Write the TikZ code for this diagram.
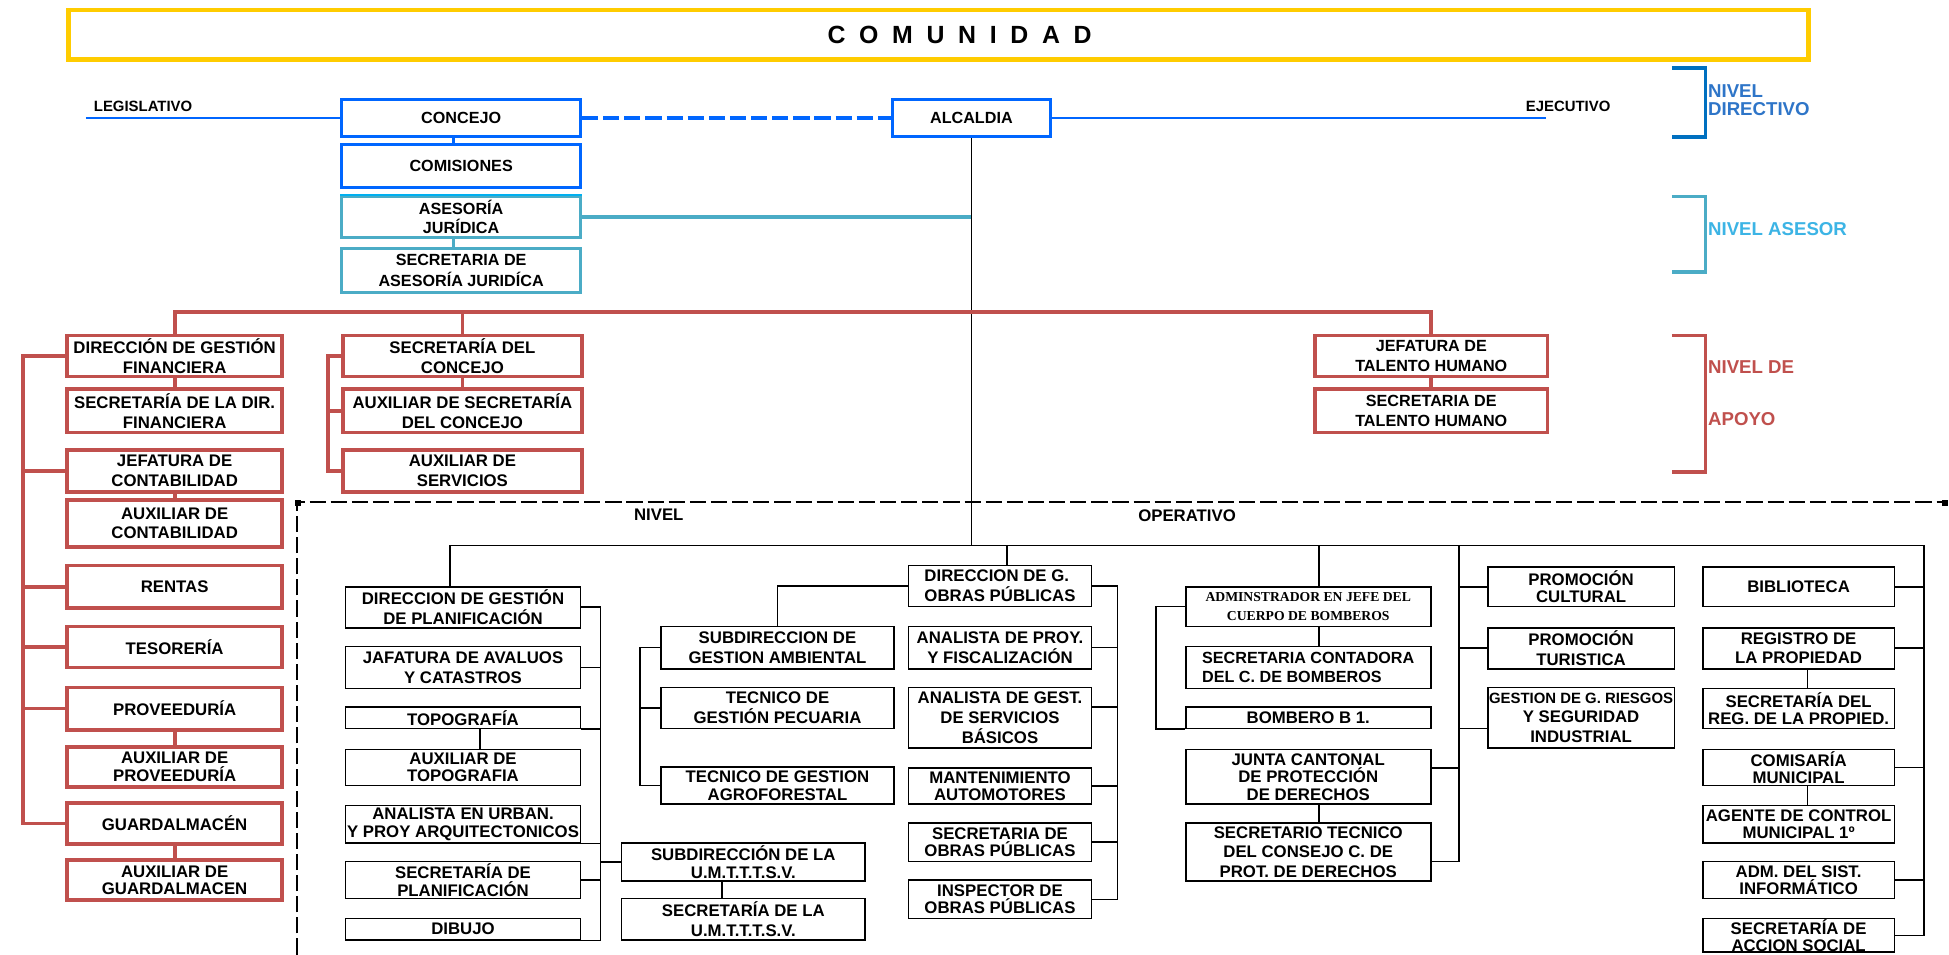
\documentclass[tikz,border=0pt]{standalone}
\usepackage{fontspec}
\setmainfont{Liberation Sans}
\newfontfamily\serifb{Liberation Serif}
\definecolor{yel}{RGB}{255,204,0}
\definecolor{dblue}{RGB}{0,102,255}
\definecolor{nblue}{RGB}{0,112,192}
\definecolor{nbluet}{RGB}{46,117,200}
\definecolor{teal1}{RGB}{75,172,198}
\definecolor{cyan1}{RGB}{0,176,240}
\definecolor{ntealt}{RGB}{60,180,229}
\definecolor{red1}{RGB}{192,80,77}
\newcommand\boxf{\bfseries\fontsize{13.5}{16}\selectfont}
\newcommand\boxft{\bfseries\fontsize{13.5}{14}\selectfont}
\newcommand\topf{\bfseries\fontsize{13}{16}\selectfont}
\newcommand\levf{\bfseries\fontsize{15}{15}\selectfont}
\newcommand\spc{\hspace{11pt}}
\newcommand\Bx[7]{\node[#6, minimum width={#4-#2}, minimum height={#5-#3}] (#1) at ({(#2+#4)/2},{(#3+#5)/2}) {#7};}
\tikzset{
  bluebox/.style={draw=dblue, line width=2.5pt, fill=white, inner sep=0pt, align=center, font=\topf},
  tealbox/.style={draw=teal1, line width=2.5pt, fill=white, inner sep=0pt, align=center, font=\topf},
  redbox/.style={draw=red1, line width=3pt, fill=white, inner sep=0pt, align=center, font=\boxf},
  opbox/.style={draw=black, line width=1.3pt, fill=white, inner sep=0pt, align=center, font=\boxf},
  redline/.style={draw=red1, line width=3pt},
  opline/.style={draw=black, line width=1.3pt},
  bracketline/.style={line width=3pt}
}
\begin{document}
\begin{tikzpicture}[x=1pt,y=-1pt]
\fill[white] (0,0) rectangle (1568,768);
\useasboundingbox (0,0) rectangle (1568,768);

% ---------- COMUNIDAD ----------
\Bx{comunidad}{55}{8}{1455}{48}{draw=yel, line width=3.5pt}{}
\node[font=\bfseries\fontsize{20}{24}\selectfont] (comtxt) at (772,28) {C\spc O\spc M\spc U\spc N\spc I\spc D\spc A\spc D};

% ---------- NIVEL DIRECTIVO ----------
\node[anchor=base west, font=\bfseries\fontsize{12}{14}\selectfont] (legis) at (72,90) {LEGISLATIVO};
\node[anchor=base west, font=\bfseries\fontsize{12}{14}\selectfont] (ejec) at (1224,90) {EJECUTIVO};
\Bx{concejo}{275}{80}{467}{110}{bluebox}{CONCEJO}
\Bx{comis}{275}{116}{467}{151}{bluebox}{COMISIONES}
\Bx{alcaldia}{718}{80}{845}{110}{bluebox}{ALCALDIA}
\coordinate (legend) at (69,95);
\coordinate (ejend) at (1244,95);
\draw[dblue, line width=1.3pt] (legend) -- (concejo.west);
\draw[dblue, line width=1.3pt] (alcaldia.east) -- (ejend);
\draw[dblue, line width=3pt, dash pattern=on 13pt off 4pt] (concejo.east) -- (alcaldia.west);
\draw[dblue, line width=2.5pt] ([xshift=-6pt]concejo.south) -- ([xshift=-6pt]comis.north);

% ---------- NIVEL ASESOR ----------
\Bx{ases}{275}{158}{467}{191}{tealbox, font=\bfseries\fontsize{13}{15}\selectfont}{ASESORÍA\\JURÍDICA}
\Bx{secases}{275}{200}{467}{235}{tealbox, font=\bfseries\fontsize{13}{17.5}\selectfont}{SECRETARIA DE\\ASESORÍA JURIDÍCA}
\draw[cyan1, line width=2pt] (ases.north west) -- (ases.north east);
\draw[teal1, line width=2.5pt] ([xshift=-6pt]ases.south) -- ([xshift=-6pt]secases.north);
\coordinate (otop) at (783,439);
\draw[opline] (alcaldia.south) -- (alcaldia.south |- otop);
\draw[teal1, line width=3pt] (ases.east) -- (ases.east -| alcaldia.south);

% ---------- NIVEL DE APOYO ----------
\Bx{dirf}{54}{270}{227}{303}{redbox}{DIRECCIÓN DE GESTIÓN\\FINANCIERA}
\Bx{secdf}{54}{313}{227}{348}{redbox}{SECRETARÍA DE LA DIR.\\FINANCIERA}
\Bx{jefc}{54}{362}{227}{396}{redbox}{JEFATURA DE\\CONTABILIDAD}
\Bx{auxc}{54}{402}{227}{440}{redbox}{AUXILIAR DE\\CONTABILIDAD}
\Bx{rentas}{54}{455}{227}{489}{redbox}{RENTAS}
\Bx{teso}{54}{504}{227}{537}{redbox}{TESORERÍA}
\Bx{prov}{54}{553}{227}{587}{redbox}{PROVEEDURÍA}
\Bx{auxp}{54}{601}{227}{633}{redbox, font=\boxft}{AUXILIAR DE\\PROVEEDURÍA}
\Bx{guard}{54}{646}{227}{679}{redbox}{GUARDALMACÉN}
\Bx{auxg}{54}{692}{227}{724}{redbox, font=\boxft}{AUXILIAR DE\\GUARDALMACEN}
\Bx{secc}{276}{270}{468}{303}{redbox}{SECRETARÍA DEL\\CONCEJO}
\Bx{auxsc}{276}{313}{468}{348}{redbox}{AUXILIAR DE SECRETARÍA\\DEL CONCEJO}
\Bx{auxs}{276}{362}{468}{396}{redbox}{AUXILIAR DE\\SERVICIOS}
\Bx{jth}{1058}{270}{1245}{303}{redbox, font=\topf}{JEFATURA DE\\TALENTO HUMANO}
\Bx{sth}{1058}{313}{1245}{348}{redbox, font=\topf}{SECRETARIA DE\\TALENTO HUMANO}

\coordinate (apoyo) at (783,251);
\draw[redline] (dirf.north) |- (apoyo) -| (jth.north);
\draw[redline] (secc.north) -- (secc.north |- apoyo);
\coordinate (lsp) at (18.5,0);
\draw[redline] (dirf.west) -| (lsp |- guard.west) -- (guard.west);
\foreach \n in {jefc,rentas,teso,prov} {\draw[redline] (\n.west) -- (lsp |- \n.west);}
\draw[redline] (dirf.south) -- (secdf.north);
\draw[redline] (jefc.south) -- (auxc.north);
\draw[redline] (prov.south) -- (auxp.north);
\draw[redline] (guard.south) -- (auxg.north);
\coordinate (msp) at (264,0);
\draw[redline] (secc.west) -| (msp |- auxs.west) -- (auxs.west);
\draw[redline] (auxsc.west) -- (msp |- auxsc.west);
\draw[redline] (secc.south) -- (auxsc.north);
\draw[redline] (jth.south) -- (sth.north);

% ---------- brackets ----------
\draw[nblue, bracketline] (1345,55) -- (1372,55) -- (1372,110) -- (1345,110);
\node[anchor=west, text=nbluet, font=\levf, align=left, inner sep=0pt] (nivdir) at (1374,80.5) {NIVEL\\DIRECTIVO};
\draw[teal1, bracketline] (1345,158) -- (1372,158) -- (1372,219) -- (1345,219);
\node[anchor=west, text=ntealt, font=\levf, inner sep=0pt] (nivas) at (1374,184) {NIVEL ASESOR};
\draw[red1, bracketline] (1345,270) -- (1372,270) -- (1372,380) -- (1345,380);
\node[anchor=west, text=red1, font=\levf, inner sep=0pt] (nivap1) at (1374,295) {NIVEL DE};
\node[anchor=west, text=red1, font=\levf, inner sep=0pt] (nivap2) at (1374,337) {APOYO};

% ---------- NIVEL OPERATIVO ----------
\draw[black, line width=1.5pt, dash pattern=on 13pt off 4pt] (239,768) -- (239,404) -- (1566,404);
\fill (237,402) rectangle (242,407);
\fill (1562,402) rectangle (1567,407);
\node[font=\boxf] (opn) at (530,414.5) {NIVEL};
\node[font=\boxf] (opo) at (955,414.5) {OPERATIVO};

\Bx{plan}{278}{472}{467}{505}{opbox}{DIRECCION DE GESTIÓN\\DE PLANIFICACIÓN}
\Bx{jaf}{278}{520}{467}{554}{opbox}{JAFATURA DE AVALUOS\\Y CATASTROS}
\Bx{topo}{278}{569}{467}{586}{opbox}{TOPOGRAFÍA}
\Bx{auxt}{278}{603}{467}{632}{opbox, font=\boxft}{AUXILIAR DE\\TOPOGRAFIA}
\Bx{anur}{278}{648}{467}{678}{opbox, font=\boxft}{ANALISTA EN URBAN.\\Y PROY ARQUITECTONICOS}
\Bx{secpl}{278}{693}{467}{723}{opbox, font=\boxft}{SECRETARÍA DE\\PLANIFICACIÓN}
\Bx{dib}{278}{739}{467}{756}{opbox}{DIBUJO}
\Bx{umt1}{500}{678}{696}{709}{opbox, font=\boxft}{SUBDIRECCIÓN DE LA\\U.M.T.T.T.S.V.}
\Bx{umt2}{500}{723}{696}{756}{opbox}{SECRETARÍA DE LA\\U.M.T.T.T.S.V.}
\Bx{amb}{532}{504}{719}{538}{opbox}{SUBDIRECCION DE\\GESTION AMBIENTAL}
\Bx{pecu}{532}{553}{719}{586}{opbox}{TECNICO DE\\GESTIÓN PECUARIA}
\Bx{agro}{532}{617}{719}{647}{opbox, font=\boxft}{TECNICO DE GESTION\\AGROFORESTAL}
\Bx{obr}{731}{455}{878}{488}{opbox, align=left}{DIRECCION DE G.\\OBRAS PÚBLICAS}
\Bx{anpf}{731}{504}{878}{538}{opbox}{ANALISTA DE PROY.\\Y FISCALIZACIÓN}
\Bx{angs}{731}{553}{878}{602}{opbox}{ANALISTA DE GEST.\\DE SERVICIOS\\BÁSICOS}
\Bx{mant}{731}{618}{878}{647}{opbox, font=\boxft}{MANTENIMIENTO\\AUTOMOTORES}
\Bx{secop}{731}{662}{878}{693}{opbox, font=\boxft}{SECRETARIA DE\\OBRAS PÚBLICAS}
\Bx{insp}{731}{708}{878}{739}{opbox, font=\boxft}{INSPECTOR DE\\OBRAS PÚBLICAS}
\Bx{adm}{954}{472}{1151}{504}{opbox, font=\serifb\bfseries\fontsize{11}{15}\selectfont}{ADMINSTRADOR EN JEFE DEL\\CUERPO DE BOMBEROS}
\Bx{secb}{954}{520}{1151}{554}{opbox, align=left, font=\bfseries\fontsize{13}{16}\selectfont}{SECRETARIA CONTADORA\\DEL C. DE BOMBEROS}
\Bx{bomb}{954}{569}{1151}{586}{opbox}{BOMBERO B 1.}
\Bx{junta}{954}{603}{1151}{647}{opbox, font=\bfseries\fontsize{13.5}{14}\selectfont}{JUNTA CANTONAL\\DE PROTECCIÓN\\DE DERECHOS}
\Bx{sect}{954}{662}{1151}{709}{opbox, font=\bfseries\fontsize{13.5}{15.5}\selectfont}{SECRETARIO TECNICO\\DEL CONSEJO C. DE\\PROT. DE DERECHOS}
\Bx{prc}{1197}{456}{1347}{488}{opbox, font=\boxft}{PROMOCIÓN\\CULTURAL}
\Bx{prt}{1197}{505}{1347}{538}{opbox}{PROMOCIÓN\\TURISTICA}
\Bx{gri}{1197}{553}{1347}{602}{opbox}{{\fontsize{12}{16}\selectfont GESTION DE G. RIESGOS}\\Y SEGURIDAD\\INDUSTRIAL}
\Bx{bib}{1370}{456}{1524}{488}{opbox}{BIBLIOTECA}
\Bx{reg}{1370}{505}{1524}{538}{opbox}{REGISTRO DE\\LA PROPIEDAD}
\Bx{sreg}{1370}{554}{1524}{586}{opbox, font=\boxft}{SECRETARÍA DEL\\REG. DE LA PROPIED.}
\Bx{comi}{1370}{603}{1524}{632}{opbox, font=\boxft}{COMISARÍA\\MUNICIPAL}
\Bx{agc}{1370}{648}{1524}{678}{opbox, font=\boxft}{AGENTE DE CONTROL\\MUNICIPAL 1º}
\Bx{asi}{1370}{693}{1524}{723}{opbox, font=\boxft}{ADM. DEL SIST.\\INFORMÁTICO}
\Bx{accs}{1370}{739}{1524}{766}{opbox, font=\boxft}{SECRETARÍA DE\\ACCION SOCIAL}

% operative connectors
\coordinate (otL) at (362,439);
\coordinate (otR) at (1548,439);
\draw[opline] (otL |- plan.north) -- (otL) -- (otR) -- (otR |- accs.east) -- (accs.east);
\foreach \n in {bib,reg,comi,asi} {\draw[opline] (\n.east) -- (otR |- \n.east);}
\coordinate (otO) at (810,439);
\draw[opline] (otO) -- (otO |- obr.north);
\coordinate (otA) at (1061,439);
\draw[opline] (otA) -- (otA |- adm.north);
\draw[opline] (otA |- adm.south) -- (otA |- secb.north);
\draw[opline] (otA |- junta.south) -- (otA |- sect.north);
\coordinate (otP) at (1174,439);
\coordinate (sectc) at ([yshift=-7.5pt]sect.east);
\coordinate (juntac) at ([yshift=7pt]junta.east);
\coordinate (gric) at ([yshift=-8.5pt]gri.west);
\draw[opline] (otP) -- (otP |- sectc) -- (sectc);
\draw[opline] (juntac) -- (otP |- juntac);
\foreach \n in {prc,prt} {\draw[opline] (\n.west) -- (otP |- \n.west);}
\draw[opline] (gric) -- (otP |- gric);
\coordinate (bsp) at (930,439);
\draw[opline] (adm.west) -- (bsp |- adm.west) -- (bsp |- bomb.south west) -- (bomb.south west);
\coordinate (osp) at (899,439);
\draw[opline] (obr.east) -- (osp |- obr.east) -- (osp |- insp.east) -- (insp.east);
\foreach \n in {anpf,mant,secop} {\draw[opline] (\n.east) -- (osp |- \n.east);}
\coordinate (angsc) at ([yshift=8.5pt]angs.east);
\draw[opline] (angsc) -- (osp |- angsc);
\draw[opline] (obr.west) -| (amb.north);
\coordinate (asp) at (515,439);
\draw[opline] (amb.west) -- (asp |- amb.west) -- (asp |- agro.west) -- (agro.west);
\draw[opline] (pecu.west) -- (asp |- pecu.west);
\coordinate (psp) at (483,439);
\draw[opline] (plan.east) -- (psp |- plan.east) -- (psp |- dib.south east) -- (dib.south east);
\foreach \n in {jaf,secpl} {\draw[opline] (\n.east) -- (psp |- \n.east);}
\draw[opline] (topo.south east) -- (psp |- topo.south east);
\draw[opline] (anur.south east) -- (psp |- anur.south east);
\draw[opline] (psp |- umt1.west) -- (umt1.west);
\draw[opline] ([xshift=13.5pt]topo.south) -- ([xshift=13.5pt]auxt.north);
\draw[opline] ([xshift=-17pt]umt1.south) -- ([xshift=-17pt]umt2.north);
\draw[opline] ([xshift=7pt]reg.south) -- ([xshift=7pt]sreg.north);
\draw[opline] ([xshift=7pt]comi.south) -- ([xshift=7pt]agc.north);
\end{tikzpicture}
\end{document}
